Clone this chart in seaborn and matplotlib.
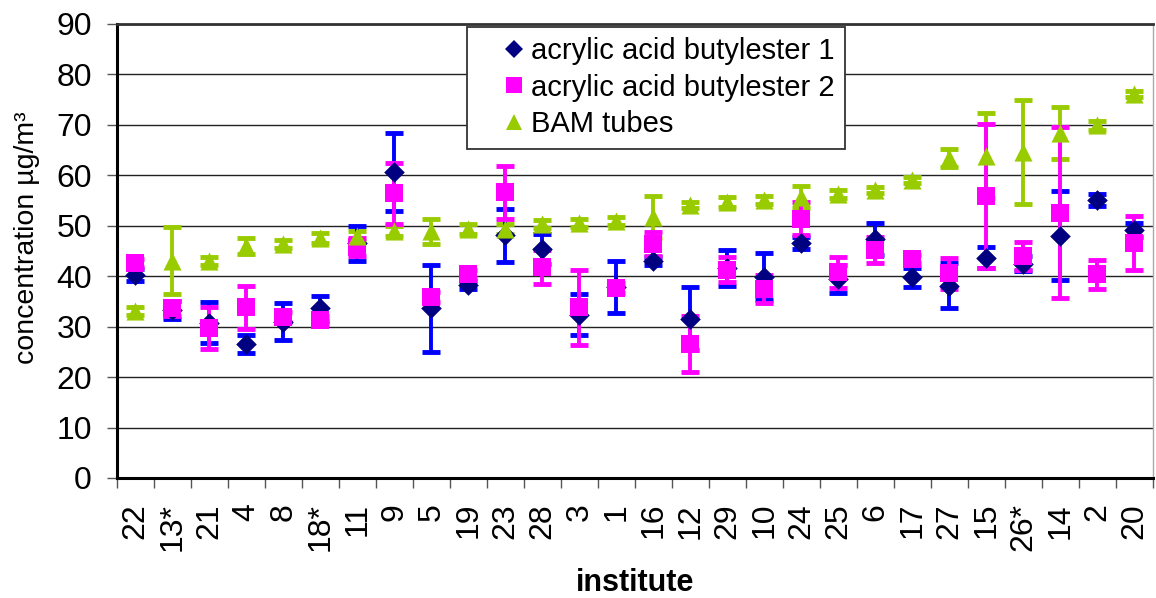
import matplotlib
matplotlib.use("Agg")
import matplotlib.pyplot as plt
import seaborn as sns
import numpy as np
from matplotlib.lines import Line2D

# institutes in plotted order
institutes = ["22", "13*", "21", "4", "8", "18*", "11", "9", "5", "19", "23", "28", "3", "1",
              "16", "12", "29", "10", "24", "25", "6", "17", "27", "15", "26*", "14", "2", "20"]

# acrylic acid butylester 1 (mean, half-width of error bar)
aab1 = [40.2, 33.3, 30.8, 26.5, 31.0, 33.6, 46.5, 60.6, 33.6, 38.2, 48.1, 45.4, 32.4, 37.9,
        43.1, 31.6, 41.6, 39.9, 46.6, 39.4, 47.4, 39.8, 38.1, 43.7, 42.5, 48.0, 55.1, 49.1]
aab1_err = [1.2, 1.7, 4.0, 1.8, 3.7, 2.4, 3.4, 7.7, 8.6, 0.8, 5.3, 3.0, 4.0, 5.1,
            0.8, 6.3, 3.5, 4.7, 1.2, 2.8, 3.1, 1.9, 4.5, 2.1, 1.5, 8.8, 1.2, 1.4]

# acrylic acid butylester 2
aab2 = [42.7, 33.6, 29.7, 33.8, 31.9, 31.3, 45.8, 56.4, 35.9, 40.4, 56.6, 41.8, 33.8, 37.6,
        46.4, 26.6, 41.3, 37.5, 51.4, 40.8, 45.2, 43.5, 40.6, 55.9, 44.0, 52.6, 40.4, 46.6]
aab2_err = [0.8, 1.5, 4.2, 4.3, 1.0, 0.8, 1.7, 6.1, 1.0, 0.8, 5.3, 3.3, 7.5, 1.0,
            2.3, 5.5, 2.5, 2.8, 3.3, 3.1, 2.6, 0.8, 3.1, 14.3, 2.8, 16.9, 2.9, 5.4]

# BAM tubes
bam = [33.1, 43.1, 43.1, 46.0, 46.4, 47.6, 48.0, 49.0, 48.9, 49.4, 49.4, 50.4, 50.5, 50.9,
       51.7, 54.2, 54.8, 55.1, 55.7, 56.3, 57.1, 59.0, 63.4, 63.9, 64.6, 68.4, 69.9, 76.2]
bam_err = [0.8, 6.6, 0.8, 1.6, 0.8, 1.0, 1.0, 1.0, 2.5, 1.0, 1.0, 0.8, 0.8, 0.8,
           4.2, 0.6, 1.0, 0.8, 2.1, 0.8, 0.6, 0.6, 1.8, 8.4, 10.3, 5.2, 0.9, 0.6]

series = [
    ("acrylic acid butylester 1", aab1, aab1_err, "D", "#000080", "#0000FF", 110),
    ("acrylic acid butylester 2", aab2, aab2_err, "s", "#FF00FF", "#FF00FF", 185),
    ("BAM tubes", bam, bam_err, "^", "#99CC00", "#99CC00", 170),
]

sns.set_theme(style="white")
plt.rcParams['font.family'] = ['Liberation Sans', 'DejaVu Sans']
plt.rcParams['text.color'] = 'black'
plt.rcParams['axes.labelcolor'] = 'black'
plt.rcParams['xtick.color'] = 'black'
plt.rcParams['ytick.color'] = 'black'

fig = plt.figure(figsize=(11.56, 5.98), dpi=100)
ax = fig.add_axes([0.1012, 0.2007, 0.8962, 0.7592])

pos = np.arange(len(institutes))
err_order = [2, 0, 1]
for k, idx in enumerate(err_order):
    name, vals, errs, mk, mcol, ecol, size = series[idx]
    ax.errorbar(pos, vals, yerr=errs, fmt='none', ecolor=ecol, elinewidth=2.8,
                capsize=6.5, capthick=3.5, zorder=2 + 0.1 * k)

for k, (name, vals, errs, mk, mcol, ecol, size) in enumerate(series):
    sns.scatterplot(x=pos, y=vals, marker=mk, color=mcol, s=size, linewidth=0,
                    ax=ax, zorder=3 + 0.1 * k)

ax.set_xlim(-0.5, len(institutes) - 0.5)
ax.set_ylim(0, 90)
ax.set_yticks(np.arange(0, 91, 10))
ax.yaxis.grid(True, color="#222222", linewidth=1.0)
ax.xaxis.grid(False)
ax.set_axisbelow(True)

ax.set_xticks(pos)
ax.set_xticklabels(institutes, rotation=90, fontsize=23)
ax.set_xticks(np.arange(-0.5, len(institutes), 1), minor=True)
ax.tick_params(axis='x', which='major', length=0, pad=18)
ax.tick_params(axis='x', which='minor', bottom=True, length=7, width=1, color="#555555")
ax.tick_params(axis='y', left=True, length=7, width=1, color="#555555", labelsize=23,
               labelcolor='black', pad=11)

for side in ["left", "bottom"]:
    ax.spines[side].set_color("black")
    ax.spines[side].set_linewidth(2.2)
ax.spines["top"].set_color("#333333")
ax.spines["top"].set_linewidth(2.0)
ax.spines["right"].set_color("#aaaaaa")
ax.spines["right"].set_linewidth(1.0)

ax.set_ylabel("concentration µg/m³", fontsize=20.5)
ax.yaxis.set_label_coords(-0.074, 0.53)
ax.set_xlabel("institute", fontsize=22, fontweight="bold")
ax.xaxis.set_label_coords(0.5, -0.198)

handles = [Line2D([], [], linestyle='none', marker=mk, color=mcol,
                  markersize=(9 if mk == "D" else 12), markeredgewidth=0)
           for name, vals, errs, mk, mcol, ecol, size in series]
labels = [s[0] for s in series]
leg = ax.legend(handles, labels, loc='upper left', bbox_to_anchor=(0.338, 0.994),
                borderaxespad=0, fontsize=21, frameon=True, fancybox=False,
                framealpha=1, edgecolor="#333333", handlelength=2.5,
                handletextpad=-0.65, labelspacing=0.3, borderpad=0.35)
leg.get_frame().set_linewidth(1.3)

fig.savefig("out.png", dpi=100)
